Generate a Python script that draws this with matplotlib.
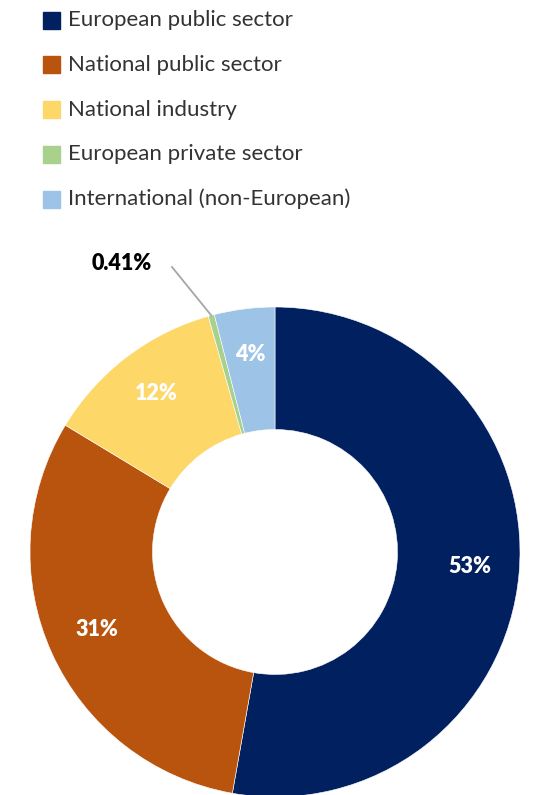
import matplotlib.pyplot as plt
import numpy as np
from matplotlib.patches import Rectangle

plt.rcParams['font.family'] = ['Lato', 'DejaVu Sans']

# funding shares (%)
categorias = ['European public sector', 'National public sector', 'National industry',
              'European private sector', 'International (non-European)']
valores = [53, 31, 12, 0.41, 4]
etiquetas = ['53%', '31%', '12%', '0.41%', '4%']
colores = ['#002060', '#B9540F', '#FDD768', '#A9D18E', '#9DC3E6']

W, H = 538, 795
fig = plt.figure(figsize=(W / 100, H / 100), dpi=100)
ax = fig.add_axes([0, 0, 1, 1])

# donut
cx, cy, R = 275, H - 552, 245
wedges, _ = ax.pie(valores, colors=colores, startangle=90, counterclock=False,
                   center=(cx, cy), radius=R, frame=True,
                   wedgeprops=dict(width=R * 0.5, edgecolor='white', linewidth=0.4))
ax.set_xlim(0, W)
ax.set_ylim(0, H)
ax.set_aspect('equal')
ax.axis('off')

for w, lab in zip(wedges, etiquetas):
    ang = np.deg2rad((w.theta1 + w.theta2) / 2)
    if lab == '0.41%':
        # small slice: label outside with a leader line
        x0, y0 = cx + R * np.cos(ang), cy + R * np.sin(ang)
        ax.plot([x0, 172], [y0, H - 267], color='#A6A6A6', lw=1.3)
        ax.text(122, H - 264, lab, ha='center', va='center', fontsize=15.5,
                fontweight='heavy', color='black')
        continue
    r = R * 0.80
    ax.text(cx + r * np.cos(ang), cy + r * np.sin(ang) + 3, lab, ha='center', va='center',
            fontsize=15.5, fontweight='heavy', color='white')

# legend
for i, (cat, col) in enumerate(zip(categorias, colores)):
    y = H - (20 + i * 44.8)
    ax.add_patch(Rectangle((43, y - 8.5), 17, 17, color=col))
    ax.text(68, y, cat, ha='left', va='center', fontsize=16, color='#333333')

fig.savefig('out.png', dpi=100)
